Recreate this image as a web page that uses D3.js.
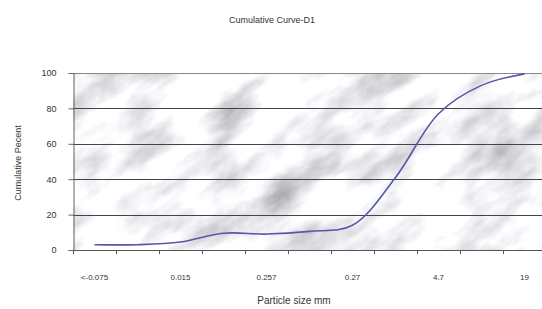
<!DOCTYPE html>
<html>
<head>
<meta charset="utf-8">
<script src="https://cdn.jsdelivr.net/npm/d3@7"></script>
<style>
  body { margin: 0; background: #fff; }
  text { font-family: "Liberation Sans", Arial, sans-serif; }
</style>
</head>
<body>
<div id="chart"></div>
<script>
// sieve sizes (category axis), only every 2nd label is shown
var sizes = ["<-0.075", "0.1", "0.015", "0.2", "0.257", "0.4", "0.27", "1.2", "4.7", "9.5", "19"];
var cumPercent = [3, 3, 4.5, 9.5, 9, 10.5, 14, 41, 77, 93, 99.5];
var yTicks = [0, 20, 40, 60, 80, 100];

(function() {
var width = 542, height = 309;
var pLeft = 73, pTop = 73, pBottom = 250, bandW = 43;
var pRight = pLeft + bandW * sizes.length;

var svg = d3.select("#chart").append("svg")
  .attr("width", width).attr("height", height);

var defs = svg.append("defs");
var f = defs.append("filter").attr("id", "marble")
  .attr("x", 0).attr("y", 0).attr("width", 1).attr("height", 1);
f.append("feTurbulence").attr("type", "fractalNoise")
  .attr("baseFrequency", "0.014 0.032").attr("numOctaves", 5).attr("seed", 3);
f.append("feColorMatrix").attr("type", "matrix")
  .attr("values", "1.25 0 0 0 0.28  1.25 0 0 0 0.28  1.25 0 0 0 0.31  0 0 0 0 1");
defs.append("clipPath").attr("id", "plotclip").append("rect")
  .attr("x", pLeft).attr("y", pTop).attr("width", width - pLeft).attr("height", pBottom - pTop);

var x = d3.scaleBand().domain(sizes).range([pLeft, pRight]);
var y = d3.scaleLinear().domain([0, 100]).range([pBottom, pTop]);

// textured plot background
svg.append("g").attr("clip-path", "url(#plotclip)")
  .append("rect")
  .attr("x", -200).attr("y", -300).attr("width", 1000).attr("height", 900)
  .attr("transform", "rotate(-35," + ((pLeft + width) / 2) + "," + ((pTop + pBottom) / 2) + ")")
  .attr("filter", "url(#marble)");

// gridlines
svg.append("g").selectAll("line").data(yTicks.slice(1)).enter().append("line")
  .attr("x1", pLeft).attr("x2", width)
  .attr("y1", function(d){ return Math.round(y(d)) + 0.5; })
  .attr("y2", function(d){ return Math.round(y(d)) + 0.5; })
  .attr("stroke", function(d){ return d == 100 ? "#888" : "#444"; })
  .attr("stroke-width", 1);

// y axis
var yAxis = svg.append("g").attr("transform", "translate(" + (pLeft + 0.5) + ",0)")
  .call(d3.axisLeft(y).tickValues(yTicks).tickSize(5).tickPadding(12));
yAxis.select(".domain").attr("stroke", "#666");
yAxis.selectAll(".tick line").attr("stroke", "#666");
yAxis.selectAll("text").attr("font-size", 9).attr("fill", "#333");

// x axis: ticks on category boundaries
var bounds = d3.range(sizes.length + 1).map(function(i){ return pLeft + i * bandW; });
var xg = svg.append("g");
xg.append("line").attr("x1", pLeft).attr("x2", width)
  .attr("y1", pBottom + 0.5).attr("y2", pBottom + 0.5).attr("stroke", "#555");
xg.selectAll(".tk").data(bounds).enter().append("line")
  .attr("x1", function(d){ return d + 0.5; }).attr("x2", function(d){ return d + 0.5; })
  .attr("y1", pBottom).attr("y2", pBottom + 4).attr("stroke", "#555");
xg.selectAll(".lb").data(sizes.filter(function(d, i){ return i % 2 == 0; })).enter().append("text")
  .attr("x", function(d){ return x(d) + x.bandwidth() / 2; })
  .attr("y", 280).attr("text-anchor", "middle")
  .attr("font-size", 8).attr("fill", "#333")
  .text(function(d){ return d; });

// curve
var line = d3.line()
  .x(function(d, i){ return x(sizes[i]) + x.bandwidth() / 2; })
  .y(function(d){ return y(d); })
  .curve(d3.curveCatmullRom.alpha(0.5));
svg.append("path").datum(cumPercent)
  .attr("d", line).attr("fill", "none")
  .attr("stroke", "#5558a8").attr("stroke-width", 1.6);

// titles
svg.append("text").attr("x", 272).attr("y", 23).attr("text-anchor", "middle")
  .attr("font-size", 9).attr("fill", "#333").text("Cumulative Curve-D1");
svg.append("text").attr("x", 294).attr("y", 304).attr("text-anchor", "middle")
  .attr("font-size", 10).attr("fill", "#333").text("Particle size mm");
svg.append("text").attr("transform", "translate(21,163) rotate(-90)")
  .attr("text-anchor", "middle").attr("font-size", 9).attr("fill", "#333")
  .text("Cumulative Pecent");
}());
</script>
</body>
</html>
